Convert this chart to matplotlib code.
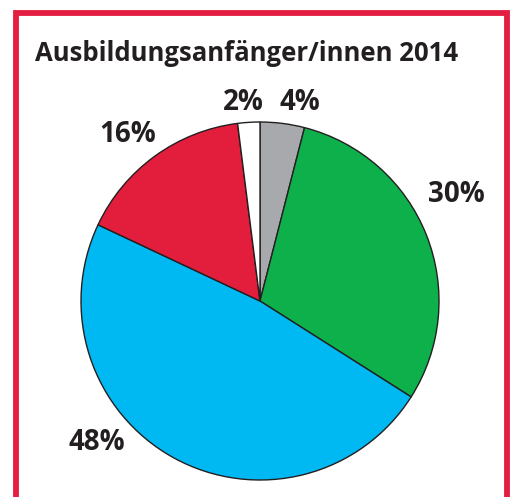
import matplotlib
matplotlib.use("Agg")
import matplotlib.pyplot as plt

# Ausbildungsanfänger/innen 2014 – shares in percent, clockwise from the top
shares = [4, 30, 48, 16, 2]
colors = ['#a7a9ac', '#0db04b', '#00b9f2', '#e31d3c', '#ffffff']
labels = ['4%', '30%', '48%', '16%', '2%']
label_pos = [(300, 103), (456, 195), (97, 442), (128, 135), (243, 103)]

W, H = 513, 497
FRAME = '#e31e42'
TEXT = '#231f20'

fig = plt.figure(figsize=(W / 100, H / 100), dpi=100)
ax = fig.add_axes([0, 0, 1, 1])
ax.set_xlim(0, W)
ax.set_ylim(0, H)
ax.axis('off')

# red frame, open at the bottom
ax.plot([15.5, 15.5, 507, 507], [0, H - 13, H - 13, 0], color=FRAME,
        lw=4.2, solid_joinstyle='miter', solid_capstyle='butt')

ax.text(35, H - 61, 'Ausbildungsanfänger/innen 2014', fontsize=18.5,
        fontweight='bold', family='Open Sans', color=TEXT, va='baseline')

ax.pie(shares, colors=colors, startangle=90, counterclock=False,
       center=(260, H - 301), radius=179, frame=True,
       wedgeprops=dict(edgecolor='#231f20', linewidth=1.0))
ax.set_xlim(0, W)
ax.set_ylim(0, H)
ax.set_aspect('equal')
ax.axis('off')

for txt, (x, y) in zip(labels, label_pos):
    ax.text(x, H - y, txt, fontsize=20, fontweight='bold', family='Open Sans',
            color=TEXT, ha='center', va='center')

fig.savefig('out.png', dpi=100)
